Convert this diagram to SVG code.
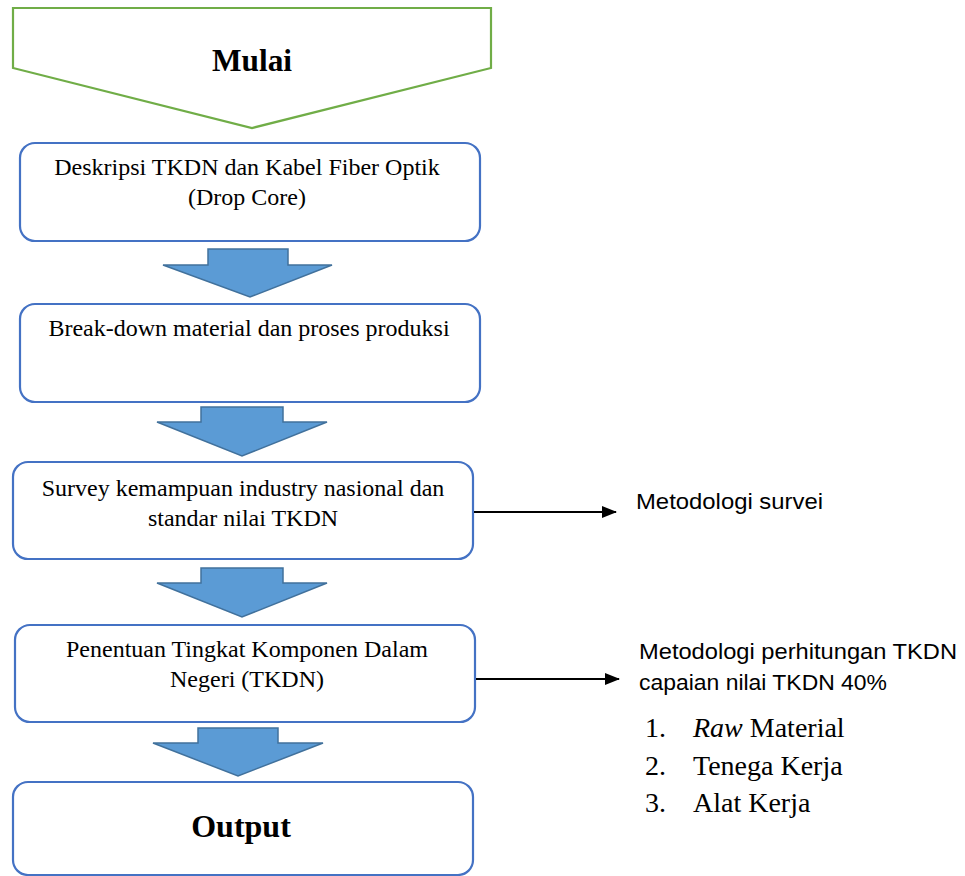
<svg xmlns="http://www.w3.org/2000/svg" width="965" height="876" viewBox="0 0 965 876">
<style>
.box{fill:#fff;stroke:#4472C4;stroke-width:2.2}
.blk{fill:#5B9BD5;stroke:#41719C;stroke-width:1.5;stroke-linejoin:miter}
.tm{font-family:"Liberation Serif","Times New Roman",serif;font-size:24px;fill:#000;text-anchor:middle}
.tb{font-family:"Liberation Serif","Times New Roman",serif;font-size:32px;font-weight:bold;fill:#000;text-anchor:middle}
.ar{font-family:"Liberation Sans",Arial,sans-serif;font-size:22px;fill:#000}
.li{font-family:"Liberation Serif","Times New Roman",serif;font-size:28px;fill:#000}
.con{stroke:#000;stroke-width:2;fill:none}
</style>
<defs>
<marker id="ah" markerWidth="15" markerHeight="12" refX="14" refY="6" orient="auto" markerUnits="userSpaceOnUse" viewBox="0 0 15 12">
<path d="M0,0 L15,6 L0,12 Z" fill="#000"/>
</marker>
</defs>
<rect width="965" height="876" fill="#fff"/>
<g id="mulai">
<path d="M13,8 L491,8 L491,68 L252,128 L13,68 Z" fill="#fff" stroke="#70AD47" stroke-width="2.2" stroke-linejoin="miter"/>
<text class="tb" x="252" y="71" textLength="80" lengthAdjust="spacingAndGlyphs">Mulai</text>
</g>
<g id="box1">
<rect class="box" x="20" y="143" width="460" height="98" rx="15"/>
<text class="tm" x="247" y="175">Deskripsi TKDN dan Kabel Fiber Optik</text>
<text class="tm" x="247" y="205">(Drop Core)</text>
</g>
<g id="box2">
<rect class="box" x="20" y="304" width="460" height="98" rx="15"/>
<text class="tm" x="249" y="336">Break-down material dan proses produksi</text>
</g>
<g id="box3">
<rect class="box" x="13" y="462" width="460" height="97" rx="15"/>
<text class="tm" x="243" y="496">Survey kemampuan industry nasional dan</text>
<text class="tm" x="243" y="526">standar nilai TKDN</text>
</g>
<g id="box4">
<rect class="box" x="15" y="625" width="460" height="97" rx="15"/>
<text class="tm" x="247" y="657">Penentuan Tingkat Komponen Dalam</text>
<text class="tm" x="247" y="687">Negeri (TKDN)</text>
</g>
<g id="output">
<rect class="box" x="13" y="782" width="460" height="93" rx="15"/>
<text class="tb" x="241" y="837">Output</text>
</g>
<g id="note1">
<text class="ar" x="636" y="509" textLength="187" lengthAdjust="spacingAndGlyphs">Metodologi survei</text>
</g>
<g id="note2">
<text class="ar" x="639" y="659" textLength="318" lengthAdjust="spacingAndGlyphs">Metodologi perhitungan TKDN</text>
<text class="ar" x="639" y="690" textLength="248" lengthAdjust="spacingAndGlyphs">capaian nilai TKDN 40%</text>
<text class="li" x="645" y="737">1.</text>
<text class="li" x="693" y="737"><tspan font-style="italic">Raw</tspan> Material</text>
<text class="li" x="645" y="775">2.</text>
<text class="li" x="693" y="775">Tenega Kerja</text>
<text class="li" x="645" y="812">3.</text>
<text class="li" x="693" y="812">Alat Kerja</text>
</g>
<g id="connectors">
<path class="blk" d="M208,249 L288,249 L288,265 L332,265 L250,297 L163,265 L208,265 Z"/>
<path class="blk" d="M201,407 L283,407 L283,422 L327,422 L242,456 L157,422 L201,422 Z"/>
<path class="blk" d="M201,568 L283,568 L283,583 L327,583 L242,617 L157,583 L201,583 Z"/>
<path class="blk" d="M198,728 L278,728 L278,743 L323,743 L238,776 L153,743 L198,743 Z"/>
<line class="con" x1="474" y1="512" x2="616" y2="512" marker-end="url(#ah)"/>
<line class="con" x1="476" y1="679" x2="619" y2="679" marker-end="url(#ah)"/>
</g>
</svg>
